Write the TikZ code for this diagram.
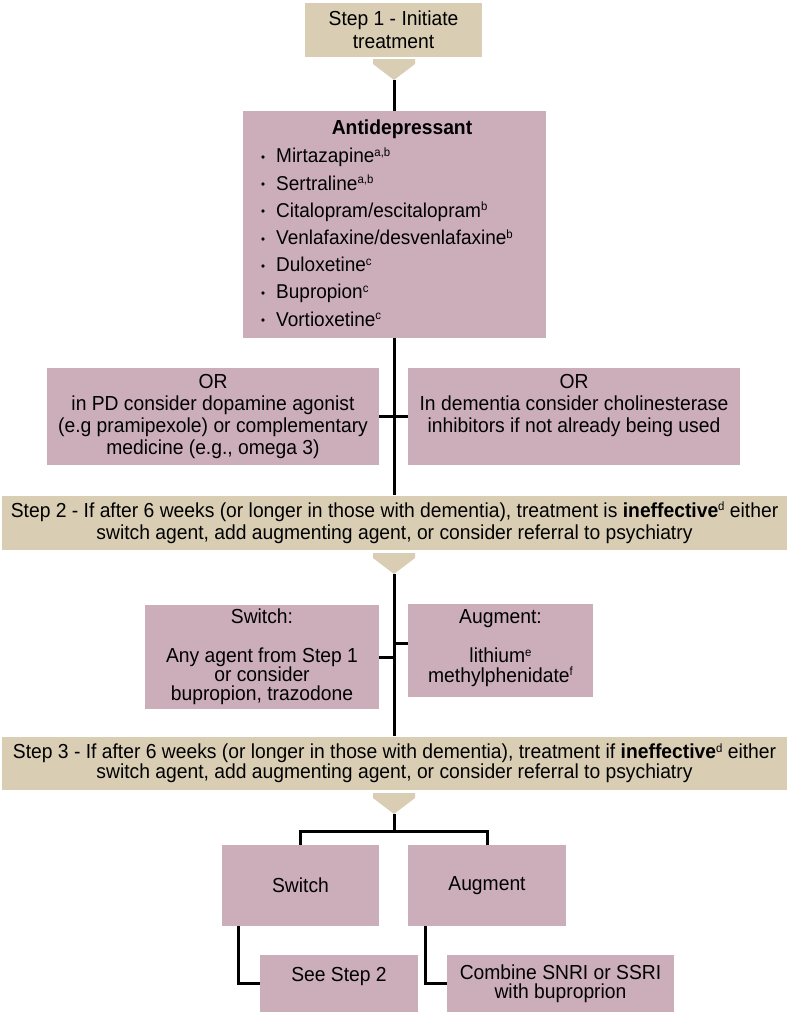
\documentclass[tikz,border=0pt]{standalone}
\usepackage{fontspec}
\setmainfont{Liberation Sans}[FakeStretch=0.95]
\definecolor{mauve}{RGB}{204,174,186}
\definecolor{tanc}{RGB}{217,206,180}
\newcommand\bul{\makebox[15pt][l]{\fontsize{12}{12}\selectfont\raisebox{1.5pt}{•}}}
\newcommand\sups[1]{\raisebox{6.5pt}{\fontsize{12}{12}\selectfont #1}}
\begin{document}
\begin{tikzpicture}[x=1pt,y=-1pt,
  every node/.style={font=\fontsize{20.3}{22}\selectfont},
  mbox/.style={fill=mauve, inner sep=0pt, align=center},
  tbox/.style={fill=tanc, inner sep=0pt, align=center},
  plain/.style={inner sep=0pt, align=center},
  conn/.style={draw=black, line width=3pt},
  barrow/.style={fill=tanc}]
\useasboundingbox (0,0) rectangle (789,1013);
\fill[white] (0,0) rectangle (789,1013);

% Step 1
\node[tbox, minimum width=177pt, minimum height=54pt, font=\fontsize{20.3}{23.5}\selectfont] (s1) at (393.5,29.5) {Step 1 - Initiate\\treatment};
\fill[barrow] (373,59) -- (415,59) -- (415,64) -- (394,80) -- (373,64) -- cycle;
\coordinate (a1) at (394,80);

% Antidepressant
\node[mbox, minimum width=303pt, minimum height=227pt] (ad) at (394,224.5) {};
\node[plain, font=\fontsize{20.3}{22}\selectfont\bfseries] (adt) at (402,129.5) {Antidepressant};
\node[anchor=north west, align=left, inner sep=0pt, font=\fontsize{20}{27.2}\selectfont] (adl) at (261,147.5)
 {\bul Mirtazapine\sups{a,b}\\
  \bul Sertraline\sups{a,b}\\
  \bul Citalopram/escitalopram\sups{b}\\
  \bul Venlafaxine/desvenlafaxine\sups{b}\\
  \bul Duloxetine\sups{c}\\
  \bul Bupropion\sups{c}\\
  \bul Vortioxetine\sups{c}};

% OR boxes
\node[mbox, minimum width=332pt, minimum height=97pt] (orl) at (213,416.5)
 {OR\\in PD consider dopamine agonist\\(e.g pramipexole) or complementary\\medicine (e.g., omega 3)};
\node[mbox, minimum width=332pt, minimum height=97pt] (orr) at (574,416.5)
 {OR\\In dementia consider cholinesterase\\inhibitors if not already being used\\\phantom{(e.g.)}};

% Step 2
\node[tbox, minimum width=785pt, minimum height=54pt] (s2) at (394.5,522.5)
 {Step 2 - If after 6 weeks (or longer in those with dementia), treatment is \textbf{ineffective}\sups{d} either\\switch agent, add augmenting agent, or consider referral to psychiatry};
\fill[barrow] (373,553) -- (415,553) -- (415,558) -- (394,574) -- (373,558) -- cycle;
\coordinate (a2) at (394,574);

% Switch / Augment (step 2)
\node[mbox, minimum width=234pt, minimum height=104pt, font=\fontsize{20.3}{19.3}\selectfont] (sw1) at (262,657)
 {Switch:\\[19.3pt]Any agent from Step 1\\or consider\\bupropion, trazodone};
\node[mbox, minimum width=185pt, minimum height=93pt] (ag1) at (500.5,650.5) {};
\node[plain, font=\fontsize{20.3}{19.5}\selectfont] (ag1t) at (500.5,648)
 {Augment:\\[19.5pt]lithium\sups{e}\\methylphenidate\sups{f}};

% Step 3
\node[tbox, minimum width=785pt, minimum height=53pt, font=\fontsize{20.3}{20}\selectfont] (s3) at (394.5,763)
 {Step 3 - If after 6 weeks (or longer in those with dementia), treatment if \textbf{ineffective}\sups{d} either\\switch agent, add augmenting agent, or consider referral to psychiatry};
\fill[barrow] (373,793) -- (415,793) -- (415,798) -- (394,814) -- (373,798) -- cycle;
\coordinate (a3) at (394,814);
\coordinate (br) at (394,831);

% Bottom boxes
\node[mbox, minimum width=157pt, minimum height=81pt] (sw2) at (300.5,885.5) {Switch};
\node[mbox, minimum width=158pt, minimum height=81pt] (ag2) at (487,885.5) {Augment};
\node[mbox, minimum width=158pt, minimum height=57pt, font=\fontsize{20.3}{19}\selectfont] (see) at (339,983.5) {See Step 2\\\phantom{with}};
\node[mbox, minimum width=227pt, minimum height=57pt, font=\fontsize{20.3}{19}\selectfont] (comb) at (560.5,983.5) {Combine SNRI or SSRI\\with buproprion};

% Connectors
\draw[conn] (a1) -- (ad.north);
\draw[conn] (ad.south) -- (ad.south |- s2.north);
\draw[conn] (orl.east) -- (orr.west);
\draw[conn] (a2) -- (a2 |- s3.north);
\draw[conn] (sw1.east) -- (sw1.east -| a2);
\draw[conn] ([yshift=7.5pt]ag1.west) -- ([yshift=7.5pt]ag1.west -| a2);
\draw[conn] (a3) -- (br);
\draw[conn] (sw2.north) -- (sw2.north |- br) -- (ag2.north |- br) -- (ag2.north);
\draw[conn] ([xshift=17pt]sw2.south west) |- (see.west);
\draw[conn] ([xshift=18pt]ag2.south west) |- (comb.west);
\end{tikzpicture}
\end{document}
